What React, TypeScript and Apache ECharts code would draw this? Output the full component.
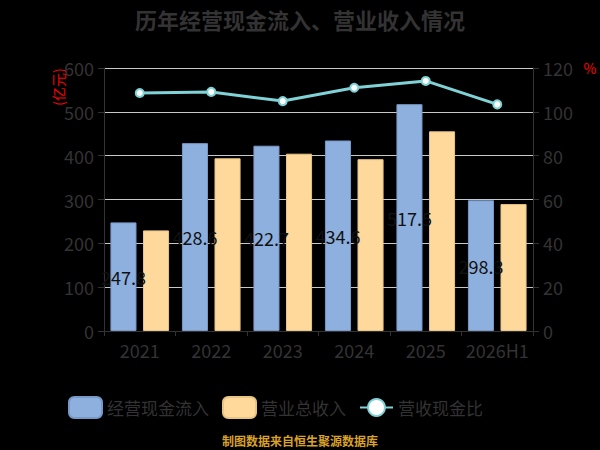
import React, { useEffect, useRef } from "react";
import * as echarts from "echarts";

const categories = ["2021", "2022", "2023", "2024", "2025", "2026H1"];
const cashInflow = [247.8, 428.6, 422.7, 434.6, 517.5, 298.3];
const revenue = [229.5, 394.0, 404.5, 392.0, 455.5, 289.5];
const ratio = [108.6, 109.1, 104.9, 111.0, 114.1, 103.4];
const leftTicks = { min: 0, max: 600, interval: 100 };
const rightTicks = { min: 0, max: 120, interval: 20 };

export default function App() {
  const ref = useRef<HTMLDivElement>(null);
  useEffect(() => {
    if (!ref.current) return;
    const chart = echarts.init(ref.current, undefined, { renderer: "svg" });
    const font = "'Noto Sans CJK SC', 'Noto Sans', sans-serif";
    chart.setOption({
      animation: false,
      backgroundColor: "#000",
      textStyle: { fontFamily: font },
      title: {
        text: "历年经营现金流入、营业收入情况",
        left: "center",
        top: 3,
        textStyle: { color: "#333", fontSize: 22, fontWeight: "bold", fontFamily: font },
      },
      legend: {
        left: 63,
        top: 391,
        itemWidth: 33,
        itemHeight: 21,
        itemGap: 13,
        textStyle: { color: "#333", fontSize: 17, fontFamily: font },
        data: [
          { name: "经营现金流入" },
          { name: "营业总收入" },
          { name: "营收现金比" },
        ],
      },
      grid: { left: 104, right: 67, top: 68, bottom: 119, containLabel: false },
      xAxis: {
        type: "category",
        data: categories,
        axisLine: { lineStyle: { color: "#333", width: 1 } },
        axisTick: { show: true, length: 5, lineStyle: { color: "#333" } },
        axisLabel: { color: "#333", fontSize: 18, margin: 10, interval: 0, fontFamily: font },
      },
      yAxis: [
        {
          type: "value",
          ...leftTicks,
          axisLine: { show: true, lineStyle: { color: "#333" } },
          axisTick: { show: true, length: 6, lineStyle: { color: "#333" } },
          axisLabel: { color: "#333", fontSize: 18, margin: 10, fontFamily: font },
          splitLine: { show: true, lineStyle: { color: "#c8c8c8", width: 1 } },
        },
        {
          type: "value",
          ...rightTicks,
          axisLine: { show: true, lineStyle: { color: "#333" } },
          axisTick: { show: true, length: 6, lineStyle: { color: "#333" } },
          axisLabel: { color: "#333", fontSize: 18, margin: 10, fontFamily: font },
          splitLine: { show: false },
        },
      ],
      series: [
        {
          name: "经营现金流入",
          type: "bar",
          data: cashInflow,
          barGap: "25%",
          barCategoryGap: "18%",
          itemStyle: { color: "#8eb0de", borderColor: "#7898c8", borderWidth: 1 },
          label: {
            show: true,
            position: "inside",
            color: "#111",
            fontSize: 18,
            fontFamily: font,
          },
        },
        {
          name: "营业总收入",
          type: "bar",
          data: revenue,
          barCategoryGap: "18%",
          itemStyle: { color: "#ffd99b", borderColor: "#e8c585", borderWidth: 1 },
        },
        {
          name: "营收现金比",
          type: "line",
          yAxisIndex: 1,
          data: ratio,
          symbol: "circle",
          symbolSize: 8,
          lineStyle: { color: "#7fd3d6", width: 3 },
          itemStyle: { color: "#ffffff", borderColor: "#7fd3d6", borderWidth: 2 },
        },
      ],
      graphic: [
        {
          type: "text",
          x: 58,
          y: 87,
          rotation: Math.PI / 2,
          style: {
            text: "(亿元)",
            fill: "#ff0000",
            fontSize: 14,
            fontFamily: font,
            align: "center",
            verticalAlign: "middle",
          },
        },
        {
          type: "text",
          x: 590,
          y: 68,
          style: {
            text: "%",
            fill: "#ff0000",
            fontSize: 14,
            fontFamily: font,
            align: "center",
            verticalAlign: "middle",
          },
        },
        {
          type: "text",
          left: "center",
          top: 434,
          style: {
            text: "制图数据来自恒生聚源数据库",
            fill: "#d9a22b",
            fontSize: 12,
            fontWeight: "bold",
            fontFamily: font,
          },
        },
      ],
    });
    return () => chart.dispose();
  }, []);
  return (
    <div
      ref={ref}
      style={{ position: "fixed", left: 0, top: 0, width: 600, height: 450, background: "#000" }}
    />
  );
}
